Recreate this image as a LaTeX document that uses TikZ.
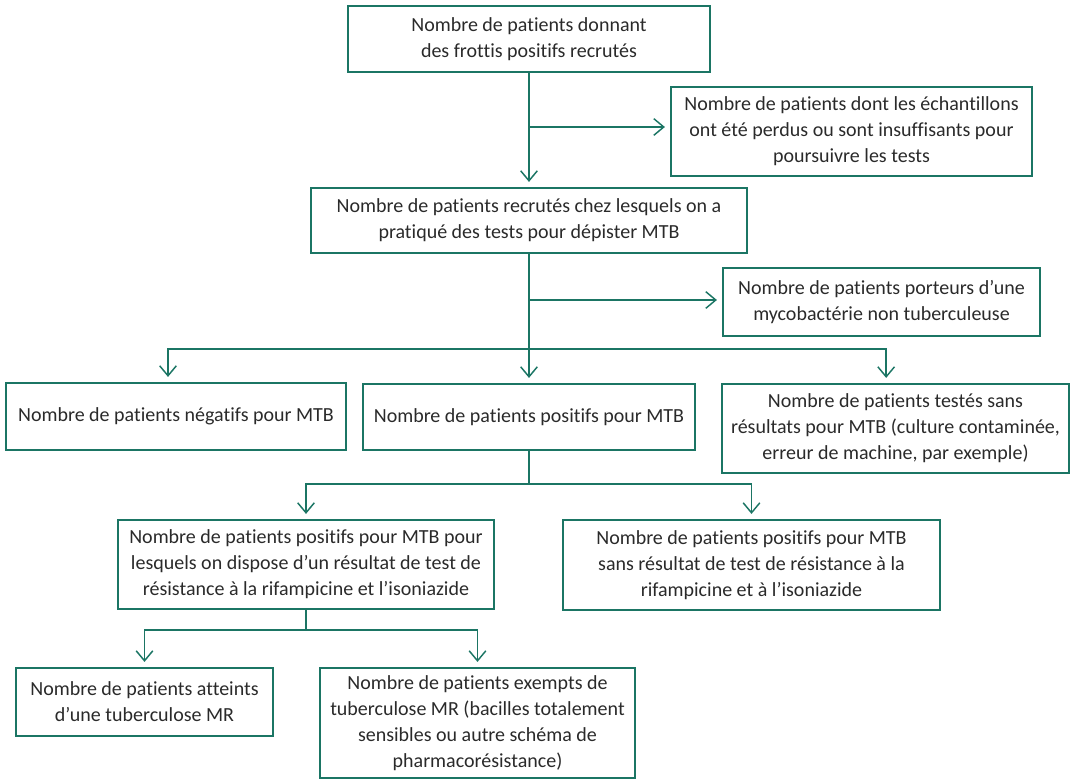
\documentclass[tikz,border=0pt]{standalone}
\usepackage{fontspec}
\setmainfont[Ligatures=NoCommon]{Carlito}
\usetikzlibrary{arrows.meta}
\definecolor{vert}{HTML}{1B7564}
\definecolor{texte}{HTML}{2A2A2A}

\begin{document}
\begin{tikzpicture}[x=0.75pt, y=-0.75pt, every node/.style={font=\fontsize{15}{19.5}\selectfont, text=texte}, >={Straight Barb[length=7.5pt, width=12.5pt]}, box/.style={draw=vert, line width=1.1pt, align=center, inner sep=0pt}, arr/.style={->, draw=vert, line width=1.1pt, shorten >=4pt}, line/.style={draw=vert, line width=1.1pt}]
	\useasboundingbox (0,0) rectangle (1075,781);
	\node[box, minimum width=271.5pt, minimum height=49.5pt] (n1) at (529,39) {Nombre de patients donnant\\des frottis positifs recrutés};
	\node[box, minimum width=270.75pt, minimum height=66.75pt] (n2) at (851.5,131.5) {Nombre de patients dont les échantillons\\ont été perdus ou sont insuffisants pour\\poursuivre les tests};
	\node[box, minimum width=327pt, minimum height=48.75pt] (n3) at (529,220.5) {Nombre de patients recrutés chez lesquels on a\\pratiqué des tests pour dépister MTB};
	\node[box, minimum width=237.75pt, minimum height=51pt] (n4) at (881.5,302) {Nombre de patients porteurs d’une\\mycobactérie non tuberculeuse};
	\node[box, minimum width=255pt, minimum height=50.25pt] (n5) at (176,416.5) {Nombre de patients négatifs pour MTB};
	\node[box, minimum width=249pt, minimum height=49.5pt] (n6) at (529,417) {Nombre de patients positifs pour MTB};
	\node[box, minimum width=260.25pt, minimum height=66.75pt] (n7) at (895.5,428.5) {Nombre de patients testés sans\\résultats pour MTB (culture contaminée,\\erreur de machine, par exemple)};
	\node[box, minimum width=282pt, minimum height=66.75pt] (n8) at (306,564.5) {Nombre de patients positifs pour MTB pour\\lesquels on dispose d’un résultat de test de\\résistance à la rifampicine et l’isoniazide};
	\node[box, minimum width=282.75pt, minimum height=67.5pt] (n9) at (751.5,565) {Nombre de patients positifs pour MTB\\sans résultat de test de résistance à la\\rifampicine et à l’isoniazide};
	\node[box, minimum width=192.75pt, minimum height=51pt] (n10) at (144.5,702) {Nombre de patients atteints\\d’une tuberculose MR};
	\node[box, minimum width=236.25pt, minimum height=82.5pt] (n11) at (477.5,723) {Nombre de patients exempts de\\tuberculose MR (bacilles totalement\\sensibles ou autre schéma de\\pharmacorésistance)};
	% branch points
	\coordinate (j1) at (529,127);
	\coordinate (j2) at (529,300);
	\coordinate (j3) at (529,349);
	\coordinate (j4) at (529,484);
	\coordinate (j5) at (306,630);
	\draw[arr] (n1.south) -- (n3.north);
	\draw[arr] (j1) -- (j1 -| n2.west);
	\draw[arr] (n3.south) -- (n6.north);
	\draw[arr] (j2) -- (j2 -| n4.west);
	\draw[arr] (j3) -| ([xshift=-6pt]n5.north);
	\draw[arr] (j3) -| ([xshift=-7pt]n7.north);
	\draw[line] (n6.south) -- (j4);
	\draw[arr] (j4) -| (n8.north);
	\draw[arr] (j4) -| (n9.north);
	\draw[line] (n8.south) -- (j5);
	\draw[arr] (j5) -| (n10.north);
	\draw[arr] (j5) -| (n11.north);
\end{tikzpicture}
\end{document}
